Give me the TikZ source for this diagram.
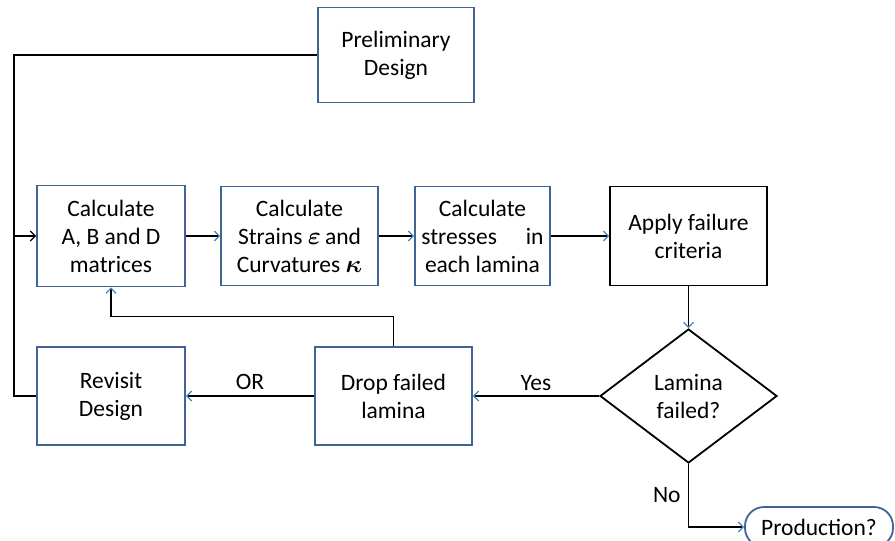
\documentclass[tikz,border=0pt]{standalone}
\usepackage{amsmath}
\usepackage{fontspec}
\setmainfont{Carlito}
\usetikzlibrary{arrows.meta,shapes.geometric}
\definecolor{boxblue}{RGB}{65,100,150}
\definecolor{tipblue}{RGB}{79,129,189}

\begin{document}
\begin{tikzpicture}[x=1pt,y=-1pt,
	every node/.style={font=\fontsize{23.5}{28}\selectfont},
	stepbox/.style={draw=boxblue,line width=1.8pt,align=center,inner sep=0pt,minimum width=148pt,minimum height=100pt},
	flow/.style={line width=1.2pt,-{Straight Barb[color=tipblue,length=5pt,width=10pt]}},
	flowk/.style={line width=1.2pt,-{Straight Barb[length=5pt,width=10pt]}}]
		\useasboundingbox (0,0) rectangle (895,541);
		
		\node (prelim) [stepbox,minimum width=156pt,minimum height=95pt] at (396,55) {Preliminary\\Design};
		\node (abd) [stepbox,minimum height=101pt] at (111,236) {Calculate\\A, B and D\\matrices};
		\node (strain) [stepbox,minimum width=157pt,minimum height=99pt] at (299.5,236) {Calculate\\Strains $\boldsymbol{\varepsilon}$\,and\\Curvatures $\boldsymbol{\kappa}$};
		\node (stress) [stepbox,minimum width=135pt,minimum height=99pt] at (482.5,236) {Calculate\\stresses\quad\ in\\each lamina};
		\node (apply) [stepbox,draw=black,minimum width=157pt,minimum height=99pt] at (688.5,236) {Apply failure\\criteria};
		\node (fail) [draw=black,line width=1.8pt,diamond,align=center,inner sep=0pt,aspect=1.32,minimum width=177pt,minimum height=134pt] at (688.5,396) {Lamina\\failed?};
		\node (drop) [stepbox,minimum width=157pt,minimum height=98pt] at (393.5,396) {Drop failed\\lamina};
		\node (revisit) [stepbox,minimum height=98pt] at (111,396) {Revisit\\Design};
		\node (prod) [draw=boxblue,line width=1.8pt,rounded corners=19pt,minimum width=148pt,minimum height=40pt,inner sep=0pt] at (819,527) {Production?};
		
		\coordinate (joint) at (14,236);
		\draw[line width=1.2pt] (prelim.west) -| (joint);
		\draw[line width=1.2pt] (revisit.west) -| (joint);
		\draw[flowk] (joint) -- (abd.west);
		
		\draw[flow] (abd) -- (strain);
		\draw[flow] (strain) -- (stress);
		\draw[flow] (stress) -- (apply);
		\draw[flow] (apply) -- (fail);
		\draw[flow] (fail) -- (drop) node[pos=0.5, above, yshift=1pt] {Yes};
		\draw[flow] (drop) -- (revisit) node[pos=0.5, above, yshift=2pt] {OR};
		\draw[flow] (drop.north) -- ++(0,-30) -| (abd.south);
		\draw[flow] (fail.south) |- (prod.west) node[pos=0.25, left, xshift=-4pt] {No};
	\end{tikzpicture}
\end{document}
